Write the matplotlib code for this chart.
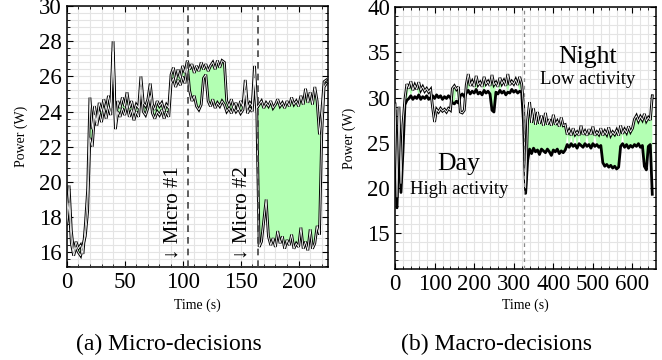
"""
Power traces for micro and macro decisions, two panels side by side
"""

import matplotlib
matplotlib.use("Agg")
import matplotlib.pyplot as plt
import numpy as np
from matplotlib.ticker import AutoMinorLocator

# ---- panel (a): micro-decisions, one sample every 2 s ----
micro_t = list(range(0, 226, 2))
micro_a = [18.0, 19.8, 17.2, 16.0, 16.6, 16.2, 16.4, 15.9, 17.5, 19.5, 24.8, 23.0, 24.3,
           23.4, 24.5, 24.0, 24.7, 24.1, 24.9, 24.2, 28.0, 23.3, 24.6, 24.2, 24.8, 24.3,
           25.1, 24.2, 24.6, 23.9, 24.4, 24.2, 26.0, 24.5, 24.3, 24.7, 25.6, 24.4, 24.1,
           24.6, 24.3, 24.5, 24.0, 24.4, 24.2, 26.1, 26.5, 25.8, 26.4, 25.9, 26.6, 26.2,
           26.9, 26.4, 26.7, 26.2, 26.6, 26.3, 26.8, 26.4, 26.7, 26.3, 26.6, 26.8, 26.4,
           26.9, 26.5, 26.9, 26.8, 24.6, 24.3, 24.7, 24.2, 24.5, 24.1, 24.6, 24.3, 25.8,
           24.2, 24.5, 24.3, 26.6, 24.2, 24.4, 24.6, 24.2, 24.5, 24.3, 24.6, 24.2, 24.4,
           24.7, 24.3, 24.5, 24.2, 24.6, 24.3, 24.8, 24.4, 24.6, 24.3, 24.9, 24.4, 25.3,
           24.5, 25.1, 24.4, 25.4, 24.6, 22.7, 24.0, 25.7, 25.8]
micro_b = [17.6, 18.8, 16.5, 15.8, 16.3, 16.0, 15.8, 16.4, 16.9, 18.3, 22.5, 22.0, 23.8,
           23.2, 24.0, 23.4, 24.2, 23.6, 24.3, 23.8, 27.4, 23.0, 24.0, 23.7, 24.2, 23.8,
           24.4, 23.7, 24.1, 23.5, 24.0, 23.7, 25.4, 24.0, 23.8, 24.2, 24.9, 23.9, 23.6,
           24.0, 23.8, 24.1, 23.6, 24.0, 23.7, 25.6, 25.9, 25.4, 25.8, 25.5, 26.0, 25.6,
           26.6, 25.2, 24.6, 24.9, 24.3, 24.1, 24.4, 25.9, 26.1, 24.6, 24.3, 24.7, 24.2,
           24.5, 24.3, 24.6, 24.4, 24.0, 24.2, 23.9, 24.3, 24.0, 24.2, 23.9, 24.1, 25.2,
           23.9, 24.2, 24.0, 25.9, 23.9, 16.3, 16.6, 17.8, 19.0, 16.9, 16.4, 16.8, 16.3,
           17.2, 16.5, 16.9, 16.2, 16.7, 16.4, 17.0, 16.2, 16.5, 16.3, 17.4, 16.2, 16.6,
           16.1, 17.3, 16.2, 16.5, 17.5, 17.0, 22.8, 25.4, 25.6]
micro_marks = [105, 165]
micro_labels = ["\u2193 Micro #1", "\u2193 Micro #2"]

# ---- panel (b): macro-decisions, one sample every 5 s ----
macro_t = list(range(0, 651, 5))
macro_a = [29.3, 19.0, 29.0, 20.5, 27.0, 29.8, 31.5, 31.0, 31.8, 30.8, 31.4, 30.9, 31.7,
           30.8, 31.2, 30.7, 31.0, 30.6, 30.9, 28.9, 27.3, 28.7, 28.4, 28.8, 28.5, 28.7,
           28.4, 28.8, 28.6, 31.0, 31.3, 30.9, 31.2, 28.4, 28.3, 28.6, 31.4, 32.6, 31.3,
           31.8, 31.2, 32.4, 31.4, 31.7, 31.2, 32.3, 31.5, 31.8, 31.3, 32.5, 31.4, 31.7,
           31.2, 32.2, 31.5, 31.9, 31.3, 32.6, 31.4, 31.8, 31.5, 32.0, 31.4, 32.3, 31.5,
           29.0, 20.0, 27.5, 29.5, 27.2, 28.8, 27.0, 28.4, 27.1, 28.0, 26.9, 28.3, 27.0,
           27.6, 26.9, 28.1, 27.0, 27.4, 26.8, 27.8, 26.9, 27.0, 25.9, 26.4, 25.8, 26.6,
           25.9, 26.2, 25.8, 26.9, 25.9, 26.3, 25.8, 26.5, 25.9, 26.8, 25.8, 26.2, 25.9,
           26.6, 25.8, 26.3, 25.9, 26.7, 25.8, 26.2, 25.9, 26.4, 25.8, 26.9, 26.0, 26.5,
           26.1, 26.8, 26.2, 26.6, 27.6, 28.0, 27.4, 27.9, 27.5, 28.2, 27.4, 27.8, 27.5,
           30.2]
macro_b = [28.5, 17.8, 26.0, 19.5, 24.0, 29.2, 29.7, 29.9, 30.2, 29.8, 30.1, 29.9, 30.3,
           29.8, 30.1, 29.9, 30.2, 29.8, 30.0, 30.2, 29.9, 30.3, 30.0, 30.2, 29.8, 30.1,
           29.9, 30.2, 30.0, 29.4, 29.3, 29.6, 29.4, 30.2, 30.4, 30.1, 30.5, 30.8, 30.4,
           30.7, 30.5, 30.9, 30.4, 30.6, 30.3, 30.8, 30.5, 30.7, 30.4, 28.6, 28.4, 30.6,
           30.4, 30.8, 30.5, 30.7, 30.3, 30.6, 30.5, 30.9, 30.6, 30.8, 30.5, 30.7, 30.6,
           27.0, 19.4, 23.0, 24.3, 23.8, 24.4, 24.0, 24.2, 23.7, 24.3, 24.1, 23.9, 24.3,
           24.0, 23.6, 24.2, 24.0, 24.3, 23.8, 24.1, 23.9, 24.2, 24.8, 24.5, 24.9, 24.6,
           24.8, 24.4, 24.9, 24.7, 24.5, 24.9, 24.6, 24.8, 24.4, 24.9, 24.6, 24.8, 24.5,
           24.7, 22.8, 22.4, 22.6, 22.3, 22.5, 22.2, 22.4, 22.1, 22.3, 24.6, 24.9, 24.5,
           24.8, 24.4, 24.7, 24.5, 24.8, 24.6, 24.9, 24.5, 24.7, 22.4, 22.0, 24.6, 24.8,
           19.3]
macro_mark = 325

GREEN = "#b3ffb3"


def outlined(ax, t, v):
    # black line with a white core
    ax.plot(t, v, color="black", lw=2.0, zorder=3, solid_joinstyle="miter")
    ax.plot(t, v, color="white", lw=0.6, zorder=4)


def style_axes(ax):
    ax.xaxis.set_minor_locator(AutoMinorLocator(5))
    ax.yaxis.set_minor_locator(AutoMinorLocator(5))
    ax.grid(True, which="both", color="#e4e4e4", lw=0.8, zorder=0)
    ax.set_axisbelow(True)
    ax.tick_params(which="both", direction="in", top=True, right=True, labelsize=16.5)
    ax.tick_params(which="major", length=4.5, width=0.8)
    ax.tick_params(which="minor", length=2.5, width=0.6)
    for s in ax.spines.values():
        s.set_linewidth(1.1)
    ax.set_xlabel("Time (s)", fontsize=10)
    ax.set_ylabel("Power (W)", fontsize=10)
    ax.yaxis.set_label_coords(-0.15, 0.5)


def main():
    plt.rcParams["font.family"] = ["Liberation Serif", "DejaVu Serif"]

    fig = plt.figure(figsize=(6.62, 3.6), dpi=100)
    ax1 = fig.add_axes([0.1008, 0.258, 0.394, 0.725])
    ax2 = fig.add_axes([0.5967, 0.252, 0.394, 0.728])

    # (a)
    ta = np.array(micro_t)
    a1 = np.array(micro_a)
    b1 = np.array(micro_b)
    ax1.fill_between(ta, a1, b1, where=a1 > b1, interpolate=True, color=GREEN, lw=0, zorder=2)
    outlined(ax1, ta, a1)
    outlined(ax1, ta, b1)
    for m, lab in zip(micro_marks, micro_labels):
        ax1.axvline(m, color="#444444", lw=1.2, ls=(0, (4, 3)), zorder=5)
        ax1.text(m - 13.5, 15.62, lab, rotation=90, ha="center", va="bottom", fontsize=15, zorder=6)
    ax1.set_xlim(0, 225)
    ax1.set_ylim(15.15, 30)
    ax1.set_xticks([0, 50, 100, 150, 200])
    ax1.set_yticks(list(range(16, 31, 2)))
    style_axes(ax1)
    ax1.xaxis.set_label_coords(0.5, -0.12)

    # (b)
    tb = np.array(macro_t)
    a2 = np.array(macro_a)
    b2 = np.array(macro_b)
    ax2.fill_between(tb, a2, b2, where=(a2 - b2) > 1.3, interpolate=True, color=GREEN, lw=0, zorder=2)
    ax2.plot(tb, b2, color="black", lw=2.0, zorder=3)
    outlined(ax2, tb, a2)
    ax2.axvline(macro_mark, color="#888888", lw=0.9, ls=(0, (3, 3)), zorder=5)
    ax2.text(486, 34.5, "Night", ha="center", va="center", fontsize=18.5, zorder=6)
    ax2.text(486, 32.0, "Low activity", ha="center", va="center", fontsize=13.5, zorder=6)
    ax2.text(162, 22.6, "Day", ha="center", va="center", fontsize=18.5, zorder=6)
    ax2.text(162, 19.8, "High activity", ha="center", va="center", fontsize=13.5, zorder=6)
    ax2.set_xlim(0, 659)
    ax2.set_ylim(11, 40)
    ax2.set_xticks(list(range(0, 601, 100)))
    ax2.set_yticks(list(range(15, 41, 5)))
    style_axes(ax2)
    ax2.xaxis.set_label_coords(0.5, -0.11)

    fig.text(0.2553, 0.042, "(a) Micro-decisions", ha="center", va="center", fontsize=17)
    fig.text(0.75, 0.042, "(b) Macro-decisions", ha="center", va="center", fontsize=17)

    fig.savefig("out.png", dpi=100)


if __name__ == "__main__":
    main()
